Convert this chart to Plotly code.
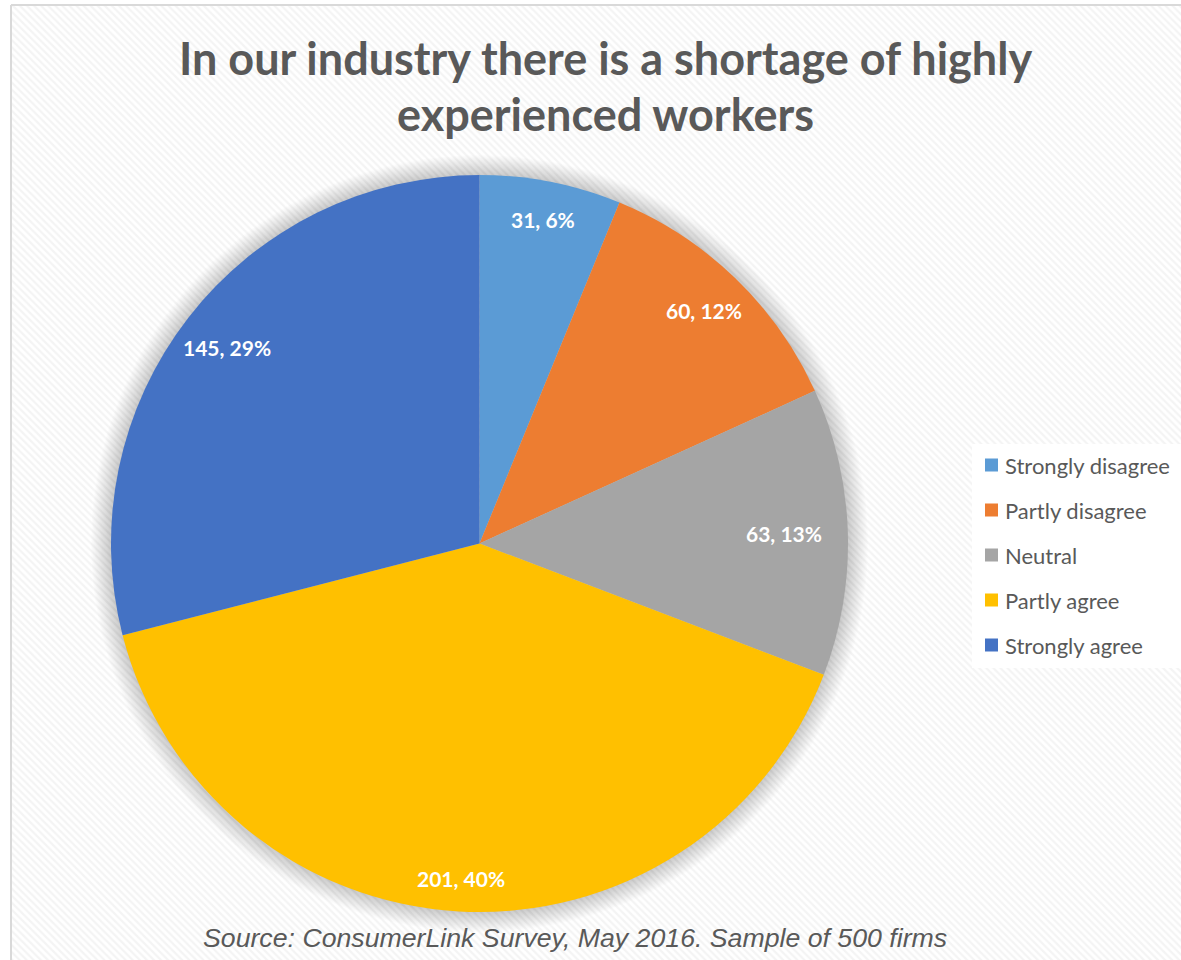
import math
import plotly.graph_objects as go

# Survey responses
categories = ["Strongly disagree", "Partly disagree", "Neutral", "Partly agree", "Strongly agree"]
counts = [31, 60, 63, 201, 145]
colors = ["#5B9BD5", "#ED7D31", "#A5A5A5", "#FFC000", "#4472C4"]

title_lines = ["In our industry there is a shortage of highly", "experienced workers"]
source_note = "Source: ConsumerLink Survey, May 2016. Sample of 500 firms"

W, H = 1181, 960
CX, CY, R = 479.5, 543.5, 368.5   # pie centre / radius in pixels
FONT = "Lato"

fig = go.Figure()

# chart-area background with fine diagonal hatch
fig.add_trace(go.Scatter(
    x=[11, W + 5, W + 5, 11, 11], y=[5, 5, H + 5, H + 5, 5],
    mode="lines", fill="toself", fillcolor="white",
    fillpattern=dict(shape="\\", fgcolor="#e9e9e9", bgcolor="white", size=5, solidity=0.45),
    line=dict(width=0), hoverinfo="skip", showlegend=False,
))

# plain white panel behind the legend
fig.add_trace(go.Scatter(
    x=[972, W + 5, W + 5, 972, 972], y=[444, 444, 668, 668, 444],
    mode="lines", fill="toself", fillcolor="white",
    line=dict(width=0), hoverinfo="skip", showlegend=False,
))

# soft glow around the pie
for k in range(18):
    rr = R + 20 - k * 1.2
    th = [i * 2 * math.pi / 180 for i in range(181)]
    fig.add_trace(go.Scatter(
        x=[CX + rr * math.cos(t) for t in th], y=[CY + rr * math.sin(t) for t in th],
        mode="lines", fill="toself", fillcolor="rgba(0,0,0,0.011)",
        line=dict(width=0), hoverinfo="skip", showlegend=False,
    ))

fig.add_trace(go.Pie(
    labels=categories, values=counts, sort=False, direction="clockwise", rotation=0,
    marker=dict(colors=colors, line=dict(width=0)),
    textinfo="none", hoverinfo="label+value+percent", showlegend=False,
    domain=dict(x=[(CX - R) / W, (CX + R) / W], y=[(H - CY - R) / H, (H - CY + R) / H]),
))

# data labels near the outer edge of each slice
total = sum(counts)
cum = 0
for v in counts:
    mid = (cum + v / 2) / total * 2 * math.pi
    cum += v
    s, c = math.sin(mid), math.cos(mid)
    rl = 0.895 * R - 25 * s ** 4
    fig.add_annotation(
        x=CX + rl * s, y=CY - rl * c + (6 if c < -0.9 else 0), xref="x", yref="y",
        text=f"<b>{v}, {round(v / total * 100)}%</b>", showarrow=False,
        font=dict(family=FONT, size=21, color="white"),
    )

# legend
for i, (name, col) in enumerate(zip(categories, colors)):
    yy = 465 + 45 * i
    fig.add_shape(type="rect", x0=985, x1=998, y0=yy - 6.5, y1=yy + 6.5,
                  xref="x", yref="y", fillcolor=col, line=dict(width=0))
    fig.add_annotation(x=1003, y=yy, xref="x", yref="y", xanchor="left", yanchor="middle",
                       text=name, showarrow=False,
                       font=dict(family=FONT, size=22, color="#595959"))

# title
for i, line in enumerate(title_lines):
    fig.add_annotation(x=605, y=58 + 56 * i, xref="x", yref="y", text=f"<b>{line}</b>",
                       showarrow=False, font=dict(family=FONT, size=45, color="#595959"))

fig.add_annotation(x=575, y=938, xref="x", yref="y", text=f"<i>{source_note}</i>",
                   showarrow=False, font=dict(family="Liberation Sans", size=26.7, color="#595959"))

# chart border (top and left edges visible)
fig.add_shape(type="line", x0=11, x1=W + 5, y0=5, y1=5, xref="x", yref="y",
              line=dict(color="#d9d9d9", width=2))
fig.add_shape(type="line", x0=11, x1=11, y0=5, y1=H + 5, xref="x", yref="y",
              line=dict(color="#d9d9d9", width=2))

fig.update_layout(
    width=W, height=H, margin=dict(l=0, r=0, t=0, b=0),
    paper_bgcolor="white", plot_bgcolor="white", showlegend=False,
    xaxis=dict(range=[0, W], visible=False, fixedrange=True),
    yaxis=dict(range=[H, 0], visible=False, fixedrange=True),
)

fig.write_html("out.html")
